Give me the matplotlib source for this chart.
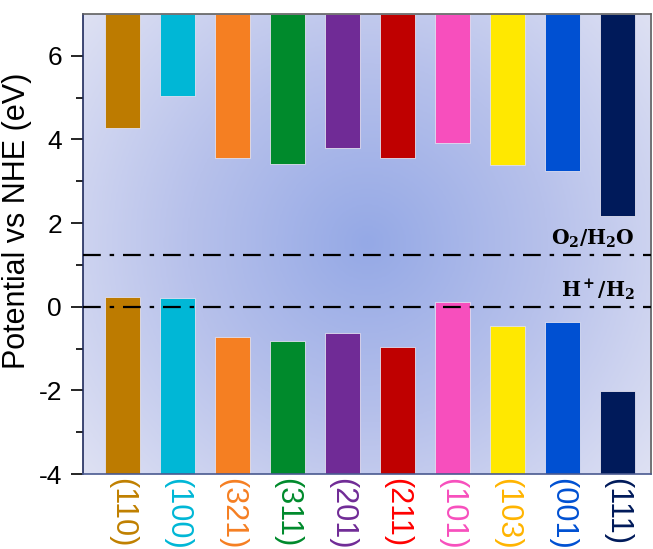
import matplotlib
matplotlib.use('Agg')
import matplotlib.pyplot as plt
import numpy as np
from matplotlib.colors import LinearSegmentedColormap

# facets and band edges (eV vs NHE)
facets = ['(110)', '(100)', '(321)', '(311)', '(201)', '(211)', '(101)', '(103)', '(001)', '(111)']
vb = [4.28, 5.03, 3.56, 3.41, 3.79, 3.56, 3.92, 3.38, 3.24, 2.17]
cb = [0.24, 0.22, -0.73, -0.83, -0.64, -0.97, 0.11, -0.46, -0.36, -2.01]
bar_colors = ['#bd7b00', '#00b7d6', '#f57f22', '#008a2c', '#702b96', '#bf0000',
              '#f74fbd', '#ffe800', '#0050d2', '#001a5a']
label_colors = ['#c08000', '#00b7d6', '#f57f22', '#008a2c', '#702b96', '#ff0000',
                '#f74fbd', '#ffb400', '#0050d2', '#001a5a']
levels = [1.23, 0.0]
level_names = [r'$\mathbf{O_2/H_2O}$', r'$\mathbf{H^+/H_2}$']

YMIN, YMAX = -4, 7
XMIN, XMAX = -0.72, 9.61

plt.rcParams['font.family'] = ['Liberation Sans', 'DejaVu Sans']
plt.rcParams['mathtext.fontset'] = 'dejavuserif'
plt.rcParams['axes.unicode_minus'] = False

fig = plt.figure(figsize=(6.53, 5.49), dpi=100)
ax = fig.add_axes([0.127, 0.1366, 0.870, 0.8379])

# radial background
nx, ny = 400, 300
gx = np.linspace(0, 1, nx)
gy = np.linspace(0, 1, ny)
X, Y = np.meshgrid(gx, gy)
cx, cy = (367 - 83) / 568, (474 - 243) / 460
R = np.sqrt(((X - cx) * 1.23) ** 2 + (Y - cy) ** 2)
R = np.clip(R / 0.78, 0, 1)
cmap = LinearSegmentedColormap.from_list('bg', ['#95a9e6', '#b7c1eb', '#dde0f3'])
ax.imshow(R, cmap=cmap, origin='lower', extent=[XMIN, XMAX, YMIN, YMAX],
          aspect='auto', zorder=0, interpolation='bilinear')

x = np.arange(len(facets))
w = 0.64
ax.bar(x, [YMAX - v for v in vb], bottom=vb, width=w, color=bar_colors,
       edgecolor='#e0e0f0', linewidth=0.6, zorder=2)
ax.bar(x, [c - YMIN for c in cb], bottom=YMIN, width=w, color=bar_colors,
       edgecolor='#e0e0f0', linewidth=0.6, zorder=2)

for lv, name in zip(levels, level_names):
    ax.axhline(lv, color='black', lw=1.6, dashes=(8, 4, 2, 4), zorder=3)
    ax.text(9.32, lv + 0.12, name, ha='right', va='bottom', fontsize=14.5, zorder=4)

ax.set_xlim(XMIN, XMAX)
ax.set_ylim(YMIN, YMAX)
ax.set_xticks(x)
ax.set_xticklabels(facets, rotation=-90, fontsize=22, va='top', ha='center')
for t, c in zip(ax.get_xticklabels(), label_colors):
    t.set_color(c)
ax.tick_params(axis='x', length=0, pad=3)
ax.set_yticks([-4, -2, 0, 2, 4, 6])
ax.set_yticks([-3, -1, 1, 3, 5], minor=True)
ax.tick_params(axis='y', labelsize=19, length=9, width=1.2, direction='out', pad=6)
ax.tick_params(axis='y', which='minor', length=5, width=1.2)
ax.set_ylabel('Potential vs NHE (eV)', fontsize=22)
ax.yaxis.set_label_coords(-0.09, 0.55)

ax.spines['left'].set_color('#1f2a5c')
ax.spines['bottom'].set_color('#4a5a90')
ax.spines['top'].set_color('#606060')
ax.spines['right'].set_color('#606060')
for s in ax.spines.values():
    s.set_linewidth(1.2)

fig.savefig('out.png', dpi=100)
